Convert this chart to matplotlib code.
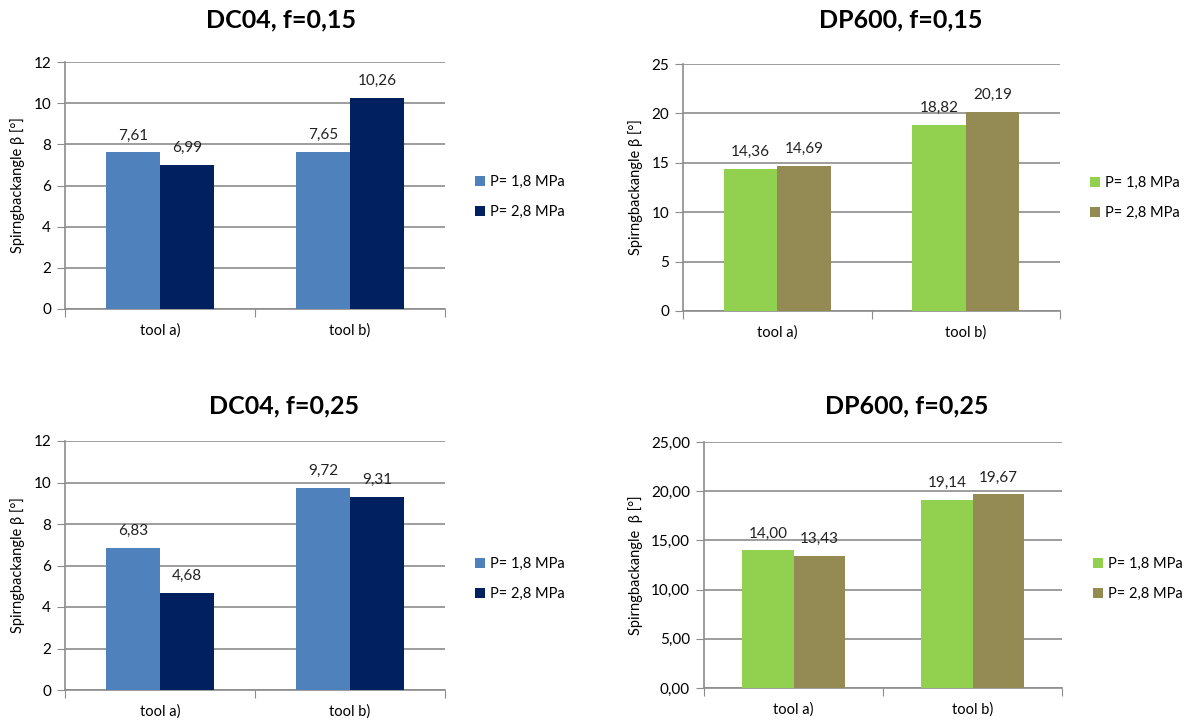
import numpy as np
import matplotlib
matplotlib.use("Agg")
import matplotlib.pyplot as plt

plt.rcParams['font.family'] = ['Lato', 'DejaVu Sans']

tools = ['tool a)', 'tool b)']
series = ['P= 1,8 MPa', 'P= 2,8 MPa']

dc04_f015 = [[7.61, 7.65], [6.99, 10.26]]
dp600_f015 = [[14.36, 18.82], [14.69, 20.19]]
dc04_f025 = [[6.83, 9.72], [4.68, 9.31]]
dp600_f025 = [[14.00, 19.14], [13.43, 19.67]]

blue_cols = ['#4F81BD', '#002060']
green_cols = ['#92D050', '#948A54']
grid_col = '#8C8C8C'

W, H = 1186, 722
fig = plt.figure(figsize=(W / 100, H / 100), dpi=100)


def px_axes(left, top, right, bottom):
    return fig.add_axes([left / W, 1 - bottom / H, (right - left) / W, (bottom - top) / H])


def panel(ax, data, cols, ymax, ystep, fmt_ticks, title, title_xy, leg_xy, ylabel):
    x = np.arange(len(tools))
    bw = 0.285
    for i, vals in enumerate(data):
        pos = x + (i - 0.5) * bw
        ax.bar(pos, vals, width=bw, color=cols[i], zorder=3, label=series[i])
        for p, v in zip(pos, vals):
            ax.text(p, v + ymax * 0.04, f"{v:.2f}".replace('.', ','), ha='center',
                    va='bottom', fontsize=11, color='#222222')
    ax.set_xlim(-0.5, 1.5)
    ax.set_ylim(0, ymax)
    yt = np.arange(0, ymax + 0.001, ystep)
    ax.set_yticks(yt)
    ax.set_yticklabels([fmt_ticks(v) for v in yt], fontsize=11)
    ax.yaxis.grid(True, color=grid_col, lw=1.2, zorder=0)
    ax.set_xticks([-0.5, 0.5, 1.5])
    ax.set_xticklabels([])
    ax.set_xticks(x, minor=True)
    ax.set_xticklabels(tools, minor=True, fontsize=10.5)
    ax.tick_params(axis='x', which='minor', length=0, pad=10)
    ax.tick_params(axis='x', which='major', length=6, color=grid_col)
    ax.tick_params(axis='y', length=6, color=grid_col, pad=4)
    for s in ['top', 'right']:
        ax.spines[s].set_visible(False)
    for s in ['left', 'bottom']:
        ax.spines[s].set_color(grid_col)
        ax.spines[s].set_linewidth(1.2)
    ax.set_ylabel(ylabel, fontsize=10.5, labelpad=6)
    fig.text(title_xy[0] / W, 1 - title_xy[1] / H, title, ha='center', va='center',
             fontsize=18, fontweight='bold')
    handles, labels = ax.get_legend_handles_labels()
    ax.legend(handles, labels, loc='center left', frameon=False, fontsize=10.5,
              bbox_to_anchor=(leg_xy[0] / W, 1 - leg_xy[1] / H),
              bbox_transform=fig.transFigure, handlelength=0.7, handleheight=0.7,
              handletextpad=0.3, labelspacing=1.1)


ax1 = px_axes(65, 62, 445, 309)
panel(ax1, dc04_f015, blue_cols, 12, 2, lambda v: f"{v:.0f}", 'DC04, f=0,15',
      (281, 20), (462, 197), 'Spirngbackangle β [°]')

ax2 = px_axes(683, 64, 1060, 311)
panel(ax2, dp600_f015, green_cols, 25, 5, lambda v: f"{v:.0f}", 'DP600, f=0,15',
      (901, 20), (1077, 198), 'Spirngbackangle β [°]')

ax3 = px_axes(65, 441, 445, 690)
panel(ax3, dc04_f025, blue_cols, 12, 2, lambda v: f"{v:.0f}", 'DC04, f=0,25',
      (284, 406), (462, 579), 'Spirngbackangle β [°]')

ax4 = px_axes(704, 442, 1062, 688)
panel(ax4, dp600_f025, green_cols, 25, 5, lambda v: f"{v:.2f}".replace('.', ','),
      'DP600, f=0,25', (907, 406), (1080, 579), 'Spirngbackangle  β [°]')

fig.savefig('out.png', dpi=100)
